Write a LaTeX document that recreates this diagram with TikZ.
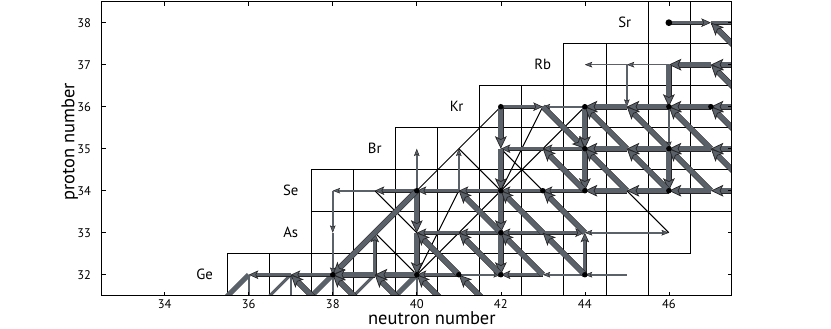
\documentclass[tikz,border=0pt]{standalone}
\usepackage{fontspec}
\setmainfont{PT Sans}
\usetikzlibrary{arrows.meta}
\definecolor{flowgray}{HTML}{5A6169}

\begin{document}
\begin{tikzpicture}[
    x=1cm, y=1cm,
    cell/.style={draw=black, line width=0.45pt},
    flowhi/.style={draw=flowgray, line width=3.2pt,
        preaction={draw=black!85, line width=3.9pt, arrows=-, shorten >=6pt},
        -{Stealth[length=8.5pt, width=8pt, inset=2pt, line width=0.5pt,
                  color=black!85, fill=flowgray]}},
    flowmid/.style={draw=flowgray, line width=2.1pt,
        preaction={draw=black!85, line width=2.7pt, arrows=-, shorten >=4.5pt},
        -{Stealth[length=6.5pt, width=5.8pt, inset=1.5pt, line width=0.4pt,
                  color=black!85, fill=flowgray]}},
    flowlo/.style={draw=flowgray, line width=1.1pt,
        -{Stealth[length=5pt, width=3.8pt, inset=1pt, line width=0.3pt,
                  color=black!85, fill=flowgray]}},
    stub/.style={draw=flowgray, line width=#1},
    aline/.style={draw=black, line width=0.7pt},
    nuc/.style={circle, fill=black, inner sep=0pt, minimum size=0.13cm},
    elem/.style={font=\fontsize{10}{12}\selectfont},
    ticklab/.style={font=\fontsize{8.5}{10}\selectfont},
    axlabel/.style={font=\fontsize{12.5}{15}\selectfont}
]
\useasboundingbox (30.08,30.73) rectangle (49.86,38.54);

% ============================================================
% NUKLIDY (siatka punktow N/Z)
% ============================================================
\foreach \n in {34,...,49}
  \foreach \z in {30,...,39}
    \coordinate (n\n-\z) at (\n,\z);

\begin{scope}
\clip (32.5,31.5) rectangle (47.5,38.5);

% komorki tablicy nuklidow
\foreach \z/\from/\to in {32/36/45, 33/38/46, 34/38/47, 35/40/47,
                          36/42/47, 37/44/47, 38/46/47}
  \foreach \n in {\from,...,\to}
    \draw[cell] (\n-0.5,\z-0.5) rectangle (\n+0.5,\z+0.5);

% slabe polaczenia (cienkie czarne linie)
\foreach \a/\b in {42-36/40-34, 41-35/42-34, 43-36/42-34, 44-36/42-34,
                   42-35/43-34, 43-35/44-34, 44-35/46-33, 45-36/46-35,
                   46-36/47-35, 39-34/40-33, 39-33/40-32, 40-32/42-34,
                   40-32/41-34}
  \draw[aline] (n\a) -- (n\b);

% odcinki wychodzace ponizej osi
\foreach \a/\b in {36-32/35-31, 38-32/37-31, 40-32/39-31}
  \draw[stub=3.4pt] (n\a) -- (n\b);
\foreach \a/\b in {37-32/36-31, 39-32/38-31}
  \draw[stub=2.1pt] (n\a) -- (n\b);
\foreach \a/\b in {36-32/36-31, 37-32/37-31, 38-32/38-31, 40-32/40-31}
  \draw[stub=1.1pt] (n\a) -- (n\b);

% ============================================================
% PRZEPLYWY
% ============================================================
\foreach \a/\b in {46-37/45-37, 45-37/44-37, 45-37/45-36, 44-36/43-36,
                   46-36/46-35, 40-34/40-35, 41-34/41-35, 39-34/38-34,
                   38-34/38-33, 38-33/38-32, 45-33/44-33, 45-33/46-33,
                   44-32/43-32, 45-32/44-32, 41-32/42-32}
  \draw[flowlo] (n\a) -- (n\b);

\foreach \a/\b in {46-38/47-38, 47-38/48-38, 42-36/43-36, 44-35/43-35,
                   43-35/42-35, 41-34/40-34, 42-34/41-34, 43-34/42-34,
                   44-34/43-34, 40-34/39-34, 41-33/40-33, 42-33/41-33,
                   43-33/42-33, 43-33/44-33, 44-32/44-33, 41-32/40-32,
                   43-32/42-32, 38-32/37-32, 37-32/36-32, 39-32/39-33}
  \draw[flowmid] (n\a) -- (n\b);

\foreach \a/\b in {48-37/47-38, 48-37/47-37, 47-37/46-37, 48-36/47-37,
                   46-37/46-36, 45-36/44-36, 46-36/45-36, 47-36/46-36,
                   48-36/47-36, 42-36/42-35, 44-36/44-35, 45-35/44-36,
                   46-35/45-36, 47-35/46-36, 48-35/47-36, 43-36/44-35,
                   45-35/44-35, 46-35/45-35, 47-35/46-35, 48-35/47-35,
                   44-35/44-34, 46-35/46-34, 42-35/42-34, 45-34/44-35,
                   46-34/45-35, 47-34/46-35, 48-34/47-35, 44-34/43-35,
                   45-34/44-34, 46-34/45-34, 47-34/46-34, 48-34/47-34,
                   40-34/40-33, 40-34/38-32, 42-34/42-33, 42-33/41-34,
                   43-33/42-34, 44-33/43-34, 40-33/40-32, 42-33/42-32,
                   41-32/40-33, 42-32/41-33, 43-32/42-33, 44-32/43-33,
                   39-32/38-32, 40-32/39-32, 41-31/40-32, 42-31/41-32,
                   40-31/39-32, 39-31/38-32, 38-31/37-32}
  \draw[flowhi] (n\a) -- (n\b);

% punkty czekania
\foreach \p in {42-36, 44-36, 46-36, 47-36, 44-35, 46-35, 40-34, 42-34,
                43-34, 44-34, 46-34, 42-33, 38-32, 40-32, 41-32, 42-32, 44-32}
  \node[nuc] (d\p) at (n\p) {};
\node[nuc, minimum size=0.16cm] (d46-38) at (n46-38) {};
\end{scope}

% ============================================================
% OSIE
% ============================================================
\draw[line width=0.6pt] (32.5,31.5) rectangle (47.5,38.5);
\foreach \n in {34,36,...,46} {
  \draw[line width=0.4pt] (\n,31.5) -- ++(0,0.1);
  \draw[line width=0.4pt] (\n,38.5) -- ++(0,-0.1);
  \node[ticklab] (xt\n) at (\n,31.31) {\n};
}
\foreach \z in {32,...,38} {
  \draw[line width=0.4pt] (32.5,\z) -- ++(0.1,0);
  \draw[line width=0.4pt] (47.5,\z) -- ++(-0.1,0);
  \node[ticklab, anchor=east] (yt\z) at (32.37,\z) {\z};
}

\node[axlabel] (xlab) at (40.36,30.97) {neutron number};
\node[axlabel, rotate=90] (ylab) at (31.74,35.16) {proton number};

% symbole pierwiastkow
\node[elem] (ge) at (34.95,32) {Ge};
\node[elem] (as) at (37,33) {As};
\node[elem] (se) at (37,34) {Se};
\node[elem] (br) at (39,35) {Br};
\node[elem] (kr) at (40.95,36) {Kr};
\node[elem] (rb) at (43,37) {Rb};
\node[elem] (sr) at (44.95,38) {Sr};

\end{tikzpicture}
\end{document}
